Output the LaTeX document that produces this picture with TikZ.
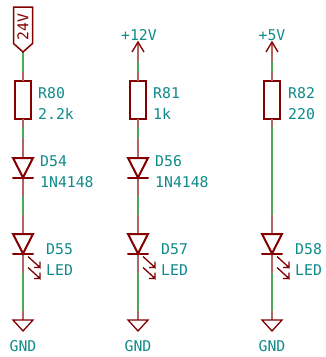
\documentclass[tikz,border=0pt]{standalone}
\usepackage{fontspec}
\setmainfont{DejaVu Sans Mono}
\definecolor{kired}{HTML}{840000}
\definecolor{kipin}{HTML}{B06464}
\definecolor{kiwire}{HTML}{50A85A}
\definecolor{kitext}{HTML}{108A8A}
\tikzset{
  comp/.style={draw=kired,line width=2pt,line join=miter},
  thincomp/.style={draw=kired,line width=1.3pt},
  pinline/.style={draw=kipin,line width=2pt},
  wireline/.style={draw=kiwire,line width=2pt},
  lbl/.style={text=kitext,font=\fontsize{14.8}{15}\selectfont,inner sep=0pt,anchor=west},
  ctr/.style={text=kitext,font=\fontsize{14.8}{15}\selectfont,inner sep=0pt,anchor=center},
  resbox/.style={comp,minimum width=16pt,minimum height=38pt,inner sep=0pt,outer sep=0pt,rectangle},
}
\newcommand{\diodesym}[2]{%
  \draw[comp] (#1-10,#2) -- (#1+10,#2) -- (#1,#2+19.5) -- cycle;
  \draw[comp,line cap=round] (#1-10,#2+19.5) -- (#1+10,#2+19.5);
}
\newcommand{\ledarrows}[2]{%
  \draw[thincomp] (#1+5,#2+3) -- (#1+17,#2+14) -- (#1+17,#2+8) (#1+17,#2+14) -- (#1+11,#2+14);
  \draw[thincomp] (#1+5,#2+14) -- (#1+17,#2+25) -- (#1+17,#2+19) (#1+17,#2+25) -- (#1+11,#2+25);
}
\newcommand{\gndsym}[2]{%
  \draw[thincomp,line join=miter] (#1-10,#2) -- (#1+10,#2) -- (#1,#2+11) -- cycle;
}
\newcommand{\pwrsym}[2]{%
  \draw[thincomp] (#1-6,#2+10) -- (#1,#2) -- (#1+6,#2+10);
}
% common parts of one column: x, prefix
\newcommand{\columnparts}[2]{%
  \coordinate (#2pb) at (#1,72);
  \node[resbox] (#2r) at (#1,100) {};
  \coordinate (#2rp) at (#1,127);
  \coordinate (#2w2) at (#1,215);
  \coordinate (#2dt) at (#1,234);
  \coordinate (#2db) at (#1,253.5);
  \coordinate (#2w3) at (#1,273);
  \coordinate (#2w4) at (#1,311);
  \coordinate (#2g) at (#1,320);
  \draw[pinline] (#2pb) -- (#2r.north);
  \draw[pinline] (#2r.south) -- (#2rp);
  \draw[pinline] (#2w2) -- (#2dt);
  \draw[pinline] (#2db) -- (#2w3);
  \draw[wireline] (#2w3) -- (#2w4);
  \draw[pinline] (#2w4) -- (#2g);
  \diodesym{#1}{234}
  \ledarrows{#1}{253.5}
  \gndsym{#1}{320}
}
% series diode: x, prefix
\newcommand{\seriesdiode}[2]{%
  \coordinate (#2w1) at (#1,138);
  \coordinate (#2st) at (#1,158);
  \coordinate (#2sb) at (#1,177.5);
  \coordinate (#2sw) at (#1,196);
  \draw[wireline] (#2rp) -- (#2w1);
  \draw[pinline] (#2w1) -- (#2st);
  \draw[pinline] (#2sb) -- (#2sw);
  \draw[wireline] (#2sw) -- (#2w2);
  \diodesym{#1}{158}
}
\begin{document}
\begin{tikzpicture}[x=1pt,y=-1pt]
\useasboundingbox (0,0) rectangle (326,357);
\fill[white] (0,0) rectangle (326,357);

\columnparts{23}{a}
\columnparts{138}{b}
\columnparts{272}{c}
\seriesdiode{23}{a}
\seriesdiode{138}{b}
\draw[wireline] (crp) -- (cw2);

% 24V flag
\coordinate (atip) at (23,52);
\draw[wireline] (atip) -- (apb);
\draw[comp,line width=1.5pt] (13.5,7) -- (32.5,7) -- (32.5,43.5) -- (atip) -- (13.5,43.5) -- cycle;
\node[text=kired,font=\fontsize{14.8}{15}\selectfont,inner sep=0pt,rotate=90] (flag) at (23,27) {24V};

% +12V, +5V
\coordinate (btip) at (138,42);
\coordinate (bpa) at (138,62);
\draw[pinline] (btip) -- (bpa);
\draw[wireline] (bpa) -- (bpb);
\pwrsym{138}{42}
\coordinate (ctip) at (272,42);
\coordinate (cpa) at (272,62);
\draw[pinline] (ctip) -- (cpa);
\draw[wireline] (cpa) -- (cpb);
\pwrsym{272}{42}
\node[ctr] (p12) at (139,35) {+12V};
\node[ctr] (p5) at (272,35) {+5V};

% labels
\node[lbl] (r80) at (38,93) {R80};
\node[lbl] (v80) at (38,114) {2.2k};
\node[lbl] (r81) at (153,93) {R81};
\node[lbl] (v81) at (153,114) {1k};
\node[lbl] (r82) at (288,93) {R82};
\node[lbl] (v82) at (288,114) {220};
\node[lbl] (d54) at (40,161) {D54};
\node[lbl] (t54) at (40,182) {1N4148};
\node[lbl] (d56) at (155,161) {D56};
\node[lbl] (t56) at (155,182) {1N4148};
\node[lbl] (d55) at (46,249) {D55};
\node[lbl] (l55) at (46,270) {LED};
\node[lbl] (d57) at (161,249) {D57};
\node[lbl] (l57) at (161,270) {LED};
\node[lbl] (d58) at (295,249) {D58};
\node[lbl] (l58) at (295,270) {LED};
\node[ctr] (g1) at (23,346) {GND};
\node[ctr] (g2) at (138,346) {GND};
\node[ctr] (g3) at (272,346) {GND};
\end{tikzpicture}
\end{document}
